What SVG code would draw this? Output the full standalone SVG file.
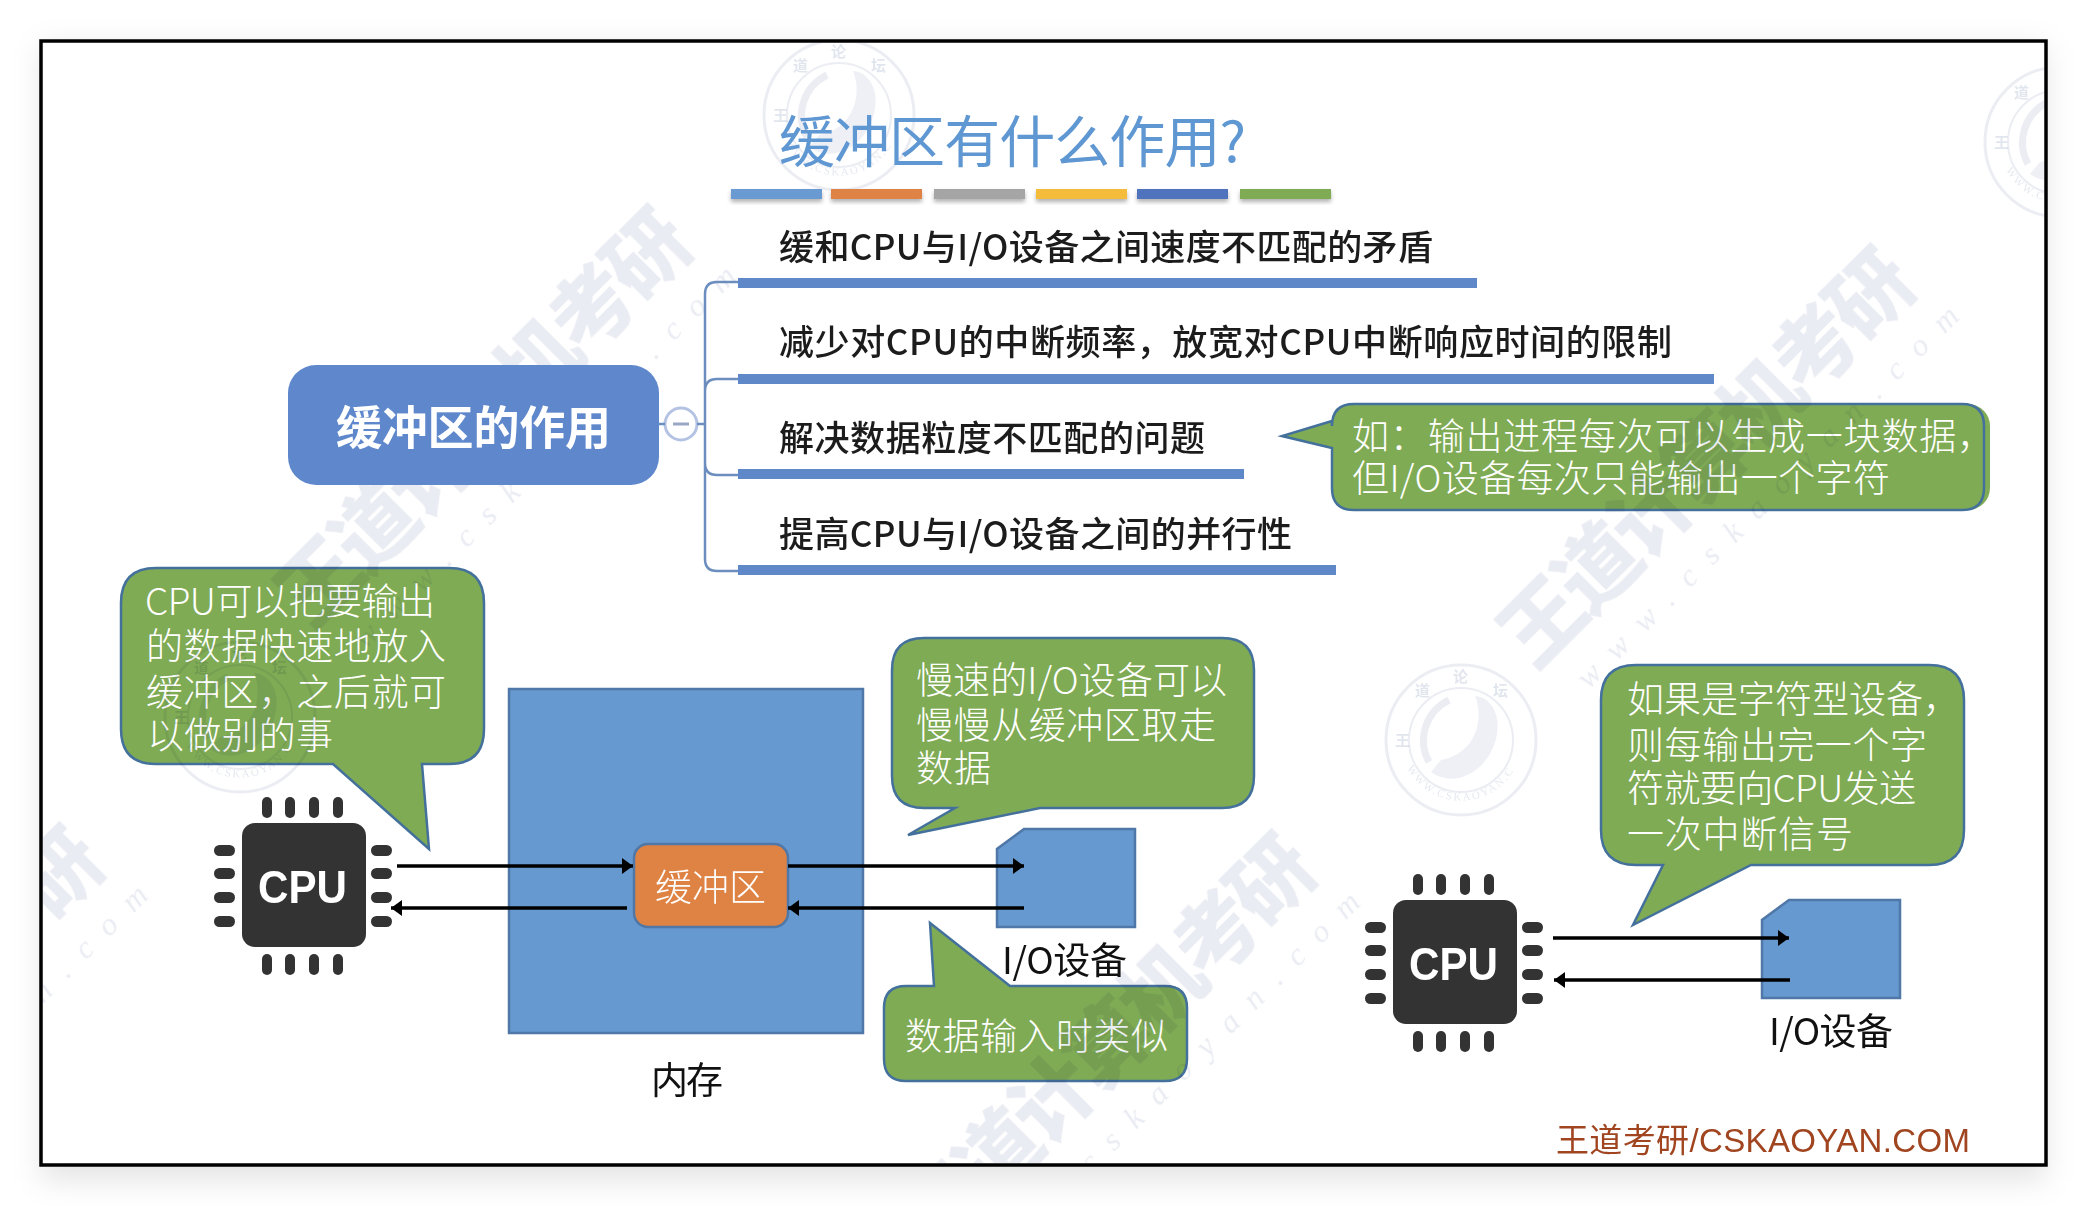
<svg xmlns="http://www.w3.org/2000/svg" xmlns:xlink="http://www.w3.org/1999/xlink" width="2088" height="1206" viewBox="0 0 2088 1206">
<style>
text{font-family:"Noto Sans CJK SC","Liberation Sans",sans-serif}
.call{fill:#7fab55;stroke:#44709c;stroke-width:2.5}
.ct{fill:#fff;font-size:37px;font-weight:300}
.mt{fill:#1c1c1c;font-size:35px;font-weight:500}
.bt{fill:#111;font-size:37px;font-weight:400}
.bar{fill:#5f88c8}
.tb{filter:url(#ds)}
.wm{fill:#5b6f9f;fill-opacity:.13;font-size:82px;font-weight:900}
.ws{fill:#5b6f9f;fill-opacity:.13;font-size:32px;font-family:"Liberation Serif",serif;font-style:italic;letter-spacing:14px}
.st{fill:none;stroke:#5b6f9f;stroke-opacity:.12}
.stt{fill:#5b6f9f;fill-opacity:.16;font-size:11px;font-family:"Liberation Serif",serif;letter-spacing:2px}
.sts{fill:#5b6f9f;fill-opacity:.18;font-size:15px;font-weight:700}
.wire{fill:none;stroke:#6c8ebf;stroke-width:2.5}
.arw{fill:none;stroke:#000;stroke-width:3.5;marker-end:url(#ah)}
.pin{fill:#333}
.dev{fill:#6699cf;stroke:#4f78a8;stroke-width:2.5}
</style>
<defs>
<filter id="sh" x="-5%" y="-5%" width="110%" height="110%"><feGaussianBlur stdDeviation="14"/></filter>
<filter id="ds" x="-5%" y="-30%" width="110%" height="190%"><feDropShadow dx="0" dy="3" stdDeviation="2" flood-color="#000" flood-opacity=".3"/></filter>
<marker id="ah" markerUnits="userSpaceOnUse" markerWidth="12" markerHeight="16" refX="11" refY="8" orient="auto"><path d="M0,0L11,8L0,16Z" fill="#000"/></marker>
<clipPath id="fr"><rect x="43" y="43" width="2001" height="1120"/></clipPath>
<g id="stamp">
<circle r="75" class="st" stroke-width="3"/>
<circle r="52" class="st" stroke-width="2"/>
<path d="M-30,32C-6,50 30,30 36,-6C40,-30 26,-44 14,-44C24,-20 14,14 -20,20Z" fill="#5b6f9f" fill-opacity=".1"/>
<path d="M-12,-40C-36,-28 -44,0 -32,22" class="st" stroke-width="7"/>
<path id="sa" d="M-54,28A61,61 0 0 0 54,28" fill="none"/>
<text class="stt"><textPath xlink:href="#sa" href="#sa">WWW.CSKAOYAN.COM</textPath></text>
<text class="sts" x="-66" y="6">王</text><text class="sts" x="-46" y="-44">道</text><text class="sts" x="-8" y="-58">论</text><text class="sts" x="32" y="-44">坛</text>
</g>
<g id="wmk">
<text class="wm" x="-272" y="28" textLength="545">王道计算机考研</text>
<text class="ws" x="-247" y="80" textLength="540">www.cskaoyan.com</text>
</g>
<g id="chip">
<rect x="242" y="823" width="124" height="124" rx="13" fill="#333"/>
<g class="pin">
<rect x="262" y="797" width="10" height="21" rx="5"/><rect x="285" y="797" width="10" height="21" rx="5"/><rect x="309" y="797" width="10" height="21" rx="5"/><rect x="333" y="797" width="10" height="21" rx="5"/>
<rect x="262" y="954" width="10" height="21" rx="5"/><rect x="285" y="954" width="10" height="21" rx="5"/><rect x="309" y="954" width="10" height="21" rx="5"/><rect x="333" y="954" width="10" height="21" rx="5"/>
<rect x="214" y="845" width="21" height="11" rx="5.5"/><rect x="214" y="868" width="21" height="11" rx="5.5"/><rect x="214" y="892" width="21" height="11" rx="5.5"/><rect x="214" y="916" width="21" height="11" rx="5.5"/>
<rect x="371" y="845" width="21" height="11" rx="5.5"/><rect x="371" y="868" width="21" height="11" rx="5.5"/><rect x="371" y="892" width="21" height="11" rx="5.5"/><rect x="371" y="916" width="21" height="11" rx="5.5"/>
</g>
<text x="258" y="903" textLength="89" lengthAdjust="spacingAndGlyphs" style="font-family:'Liberation Sans',sans-serif;font-size:47px;font-weight:700;fill:#fff">CPU</text>
</g>
</defs>
<rect width="2088" height="1206" fill="#fff"/>
<rect x="41" y="46" width="2005" height="1135" fill="#000" fill-opacity=".1" filter="url(#sh)"/>
<rect x="41" y="41" width="2005" height="1124" fill="#fff"/>

<g id="callout-output">
<rect x="1340" y="404" width="650" height="106" rx="22" fill="#7fab55"/>
<path class="call" d="M1354,404H1962Q1984,404 1984,426V488Q1984,510 1962,510H1354Q1332,510 1332,488V448L1282,436L1332,421V426Q1332,404 1354,404Z"/>
<text class="ct" x="1352" y="450" textLength="642">如&#xFF1A;输出进程每次可以生成一块数据&#xFF0C;</text>
<text class="ct" x="1352" y="492" textLength="538">但I/O设备每次只能输出一个字符</text>
</g>
<g id="callout-cpu">
<path class="call" d="M156,568H449Q484,568 484,603V729Q484,764 449,764H422L429,849L333,764H156Q121,764 121,729V603Q121,568 156,568Z"/>
<text class="ct" x="145" y="615" textLength="290">CPU可以把要输出</text>
<text class="ct" x="146" y="660" textLength="300">的数据快速地放入</text>
<text class="ct" x="146" y="706" textLength="300">缓冲区&#xFF0C;之后就可</text>
<text class="ct" x="147" y="749" textLength="186">以做别的事</text>
</g>
<g id="callout-slow">
<path class="call" d="M924,638H1222Q1254,638 1254,670V776Q1254,808 1222,808H1040L908,835L955,808H924Q892,808 892,776V670Q892,638 924,638Z"/>
<text class="ct" x="916" y="694" textLength="311">慢速的I/O设备可以</text>
<text class="ct" x="916" y="739" textLength="300">慢慢从缓冲区取走</text>
<text class="ct" x="916" y="782" textLength="75">数据</text>
</g>
<g id="callout-input">
<path class="call" d="M906,986H934L930,923L1010,986H1165Q1187,986 1187,1008V1059Q1187,1081 1165,1081H906Q884,1081 884,1059V1008Q884,986 906,986Z"/>
<text class="ct" x="905" y="1050" textLength="263">数据输入时类似</text>
</g>
<g id="callout-char">
<path class="call" d="M1636,665H1929Q1964,665 1964,700V830Q1964,865 1929,865H1751L1633,925L1663,865H1636Q1601,865 1601,830V700Q1601,665 1636,665Z"/>
<text class="ct" x="1627" y="713" textLength="333">如果是字符型设备&#xFF0C;</text>
<text class="ct" x="1627" y="759" textLength="300">则每输出完一个字</text>
<text class="ct" x="1627" y="802" textLength="289">符就要向CPU发送</text>
<text class="ct" x="1627" y="848" textLength="226">一次中断信号</text>
</g>

<g id="watermark" clip-path="url(#fr)" style="mix-blend-mode:multiply">
<use xlink:href="#stamp" href="#stamp" x="839" y="115"/>
<use xlink:href="#stamp" href="#stamp" x="1461" y="740"/>
<use xlink:href="#stamp" href="#stamp" x="2060" y="142"/>
<use xlink:href="#stamp" href="#stamp" x="240" y="717"/>
<use xlink:href="#wmk" href="#wmk" transform="translate(484,419) rotate(-45)"/>
<use xlink:href="#wmk" href="#wmk" transform="translate(1707,459) rotate(-45)"/>
<use xlink:href="#wmk" href="#wmk" transform="translate(1108,1045) rotate(-45)"/>
<use xlink:href="#wmk" href="#wmk" transform="translate(-104,1038) rotate(-45)"/>
</g>

<g id="title">
<text x="779" y="162" textLength="467" style="font-size:56px;font-weight:400;fill:#5f97d2">缓冲区有什么作用?</text>
<rect x="731" y="189" width="91" height="10" fill="#6a9ad2" class="tb"/>
<rect x="831" y="189" width="91" height="10" fill="#de8344" class="tb"/>
<rect x="934" y="189" width="91" height="10" fill="#a5a5a5" class="tb"/>
<rect x="1036" y="189" width="91" height="10" fill="#f5bb3a" class="tb"/>
<rect x="1137" y="189" width="91" height="10" fill="#4f73bd" class="tb"/>
<rect x="1240" y="189" width="91" height="10" fill="#7fab55" class="tb"/>
</g>

<g id="root">
<rect x="288" y="365" width="371" height="120" rx="28" fill="#5f88cc"/>
<text x="336" y="444" textLength="275" style="font-size:46px;font-weight:700;fill:#fff">缓冲区的作用</text>
<ellipse cx="681" cy="424" rx="16" ry="16" fill="#fff" stroke="#b4c3e4" stroke-width="3"/>
<path d="M673,424H689" stroke="#9aa7c4" stroke-width="3"/>
</g>
<g id="branch-1"><rect class="bar" x="738" y="278" width="739" height="10"/><text class="mt" x="779" y="260" textLength="654">缓和CPU与I/O设备之间速度不匹配的矛盾</text></g>
<g id="branch-2"><rect class="bar" x="738" y="374" width="976" height="10"/><text class="mt" x="779" y="355" textLength="893">减少对CPU的中断频率&#xFF0C;放宽对CPU中断响应时间的限制</text></g>
<g id="branch-3"><rect class="bar" x="738" y="469" width="506" height="10"/><text class="mt" x="779" y="451" textLength="426">解决数据粒度不匹配的问题</text></g>
<g id="branch-4"><rect class="bar" x="738" y="565" width="598" height="10"/><text class="mt" x="779" y="547" textLength="513">提高CPU与I/O设备之间的并行性</text></g>

<g id="memory">
<rect class="dev" x="509" y="689" width="354" height="344"/>
<text class="bt" x="651" y="1094" textLength="72">内存</text>
</g>
<g id="buffer">
<rect x="634" y="844" width="154" height="83" rx="14" fill="#de8344" stroke="#4f78a8" stroke-width="2.5"/>
<text class="ct" x="655" y="901" textLength="111">缓冲区</text>
</g>
<g id="cpu-left"><use xlink:href="#chip" href="#chip"/></g>
<g id="cpu-right"><use xlink:href="#chip" href="#chip" transform="translate(1151,77)"/></g>
<g id="io-left">
<path class="dev" d="M1024,829H1135V927H997V849Z"/>
<text class="bt" x="1002" y="974" textLength="125">I/O设备</text>
</g>
<g id="io-right">
<path class="dev" d="M1789,900H1900V998H1762V920Z"/>
<text class="bt" x="1769" y="1045" textLength="124">I/O设备</text>
</g>
<g id="connectors">
<path class="wire" d="M659,424H665M697,424H705M738,282H717Q705,282 705,294V559Q705,571 717,571H738M738,379H717Q705,379 705,391V463Q705,475 717,475H738"/>
<path class="arw" d="M397,866H633"/>
<path class="arw" d="M788,866H1024"/>
<path class="arw" d="M627,908H391"/>
<path class="arw" d="M1024,908H788"/>
<path class="arw" d="M1553,938H1789"/>
<path class="arw" d="M1790,980H1554"/>
</g>
<text x="1556" y="1152" textLength="414" style="font-family:'Liberation Sans','Noto Sans CJK SC',sans-serif;font-size:33px;fill:#a0451f">王道考研/CSKAOYAN.COM</text>
<rect x="41" y="41" width="2005" height="1124" fill="none" stroke="#000" stroke-width="3.5"/>
</svg>
